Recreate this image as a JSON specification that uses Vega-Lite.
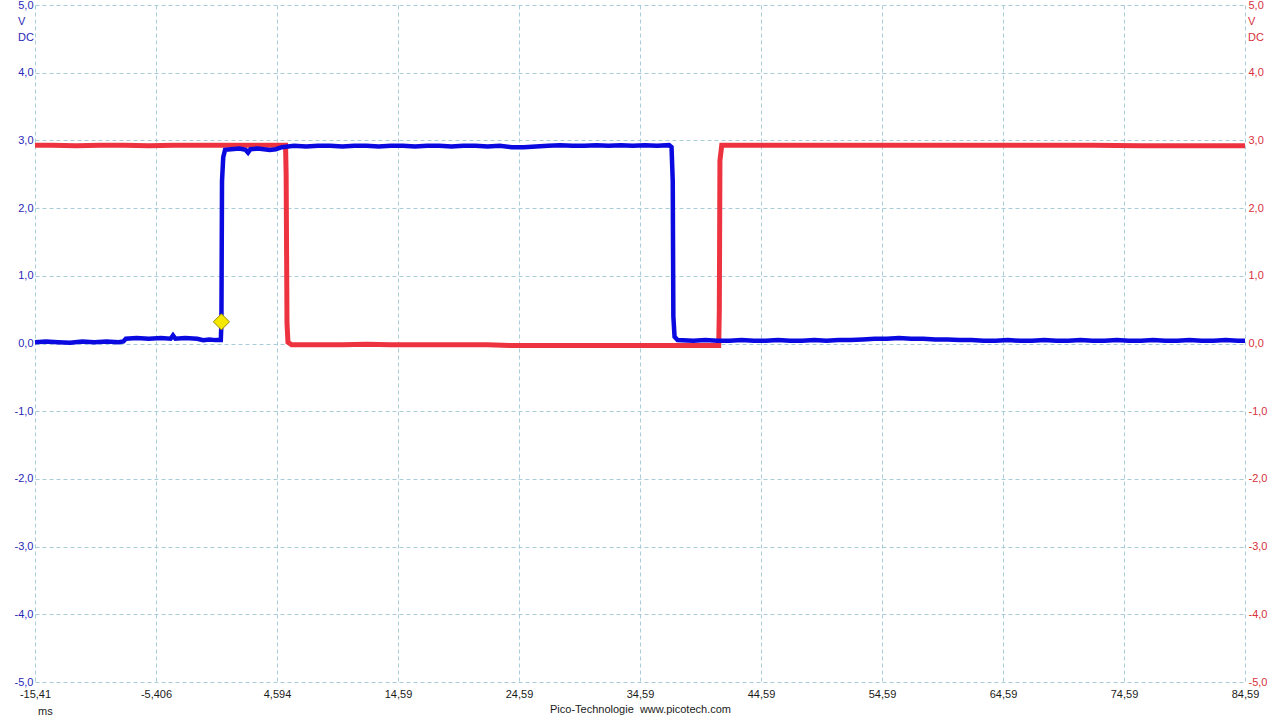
{
"$schema": "https://vega.github.io/schema/vega-lite/v6.json",
"width": 1210, "height": 677,
"autosize": {"type": "none"},
"padding": {"left": 35, "top": 5, "right": 35, "bottom": 38},
"background": "white",
"config": {"view": {"stroke": null}, "font": "Liberation Sans"},
"datasets": {
"blue": [
{"t":-15.406,"v":0.02},{"t":-14.5,"v":0.03},{"t":-13.5,"v":0.02},{"t":-12.5,"v":0.01},{"t":-11.5,"v":0.03},{"t":-10.5,"v":0.02},{"t":-9.5,"v":0.03},{"t":-8.5,"v":0.02},{"t":-8.1,"v":0.03},
{"t":-7.9,"v":0.07},{"t":-7.0,"v":0.08},{"t":-6.0,"v":0.07},{"t":-5.0,"v":0.08},{"t":-4.2,"v":0.07},{"t":-4.0,"v":0.12},{"t":-3.8,"v":0.07},{"t":-3.0,"v":0.08},{"t":-2.0,"v":0.07},{"t":-1.5,"v":0.05},{"t":-1.0,"v":0.06},{"t":-0.5,"v":0.05},{"t":-0.05,"v":0.05},
{"t":0.0,"v":0.3},{"t":0.05,"v":2.4},{"t":0.15,"v":2.75},{"t":0.3,"v":2.86},{"t":0.8,"v":2.87},{"t":1.5,"v":2.88},{"t":2.0,"v":2.86},{"t":2.2,"v":2.82},{"t":2.4,"v":2.87},{"t":3.0,"v":2.88},{"t":4.0,"v":2.86},{"t":4.5,"v":2.87},{"t":5.0,"v":2.9},
{"t":6.0,"v":2.92},{"t":7.0,"v":2.91},{"t":8.0,"v":2.92},{"t":9.0,"v":2.92},{"t":10.0,"v":2.91},{"t":11.0,"v":2.92},{"t":12.0,"v":2.92},{"t":13.0,"v":2.91},{"t":14.0,"v":2.92},{"t":15.0,"v":2.92},{"t":16.0,"v":2.91},{"t":17.0,"v":2.92},{"t":18.0,"v":2.92},{"t":19.0,"v":2.91},{"t":20.0,"v":2.92},{"t":21.0,"v":2.92},{"t":22.0,"v":2.91},{"t":23.0,"v":2.92},{"t":24.0,"v":2.9},{"t":25.0,"v":2.9},{"t":26.0,"v":2.91},{"t":27.0,"v":2.92},{"t":28.0,"v":2.93},{"t":29.0,"v":2.92},{"t":30.0,"v":2.92},{"t":31.0,"v":2.93},{"t":32.0,"v":2.92},{"t":33.0,"v":2.93},{"t":34.0,"v":2.92},{"t":35.0,"v":2.93},{"t":36.0,"v":2.92},{"t":37.0,"v":2.93},
{"t":37.2,"v":2.9},{"t":37.3,"v":2.4},{"t":37.35,"v":0.4},{"t":37.45,"v":0.1},{"t":37.7,"v":0.05},
{"t":39.0,"v":0.04},{"t":40.0,"v":0.05},{"t":41.0,"v":0.04},{"t":42.0,"v":0.04},{"t":43.0,"v":0.05},{"t":44.0,"v":0.04},{"t":45.0,"v":0.04},{"t":46.0,"v":0.05},{"t":47.0,"v":0.04},{"t":48.0,"v":0.04},{"t":49.0,"v":0.05},{"t":50.0,"v":0.04},{"t":51.0,"v":0.05},{"t":52.0,"v":0.05},{"t":53.0,"v":0.06},{"t":54.0,"v":0.07},{"t":55.0,"v":0.07},{"t":56.0,"v":0.08},{"t":57.0,"v":0.07},{"t":58.0,"v":0.07},{"t":59.0,"v":0.06},{"t":60.0,"v":0.06},{"t":61.0,"v":0.05},{"t":62.0,"v":0.05},{"t":63.0,"v":0.04},{"t":64.0,"v":0.04},{"t":65.0,"v":0.05},{"t":66.0,"v":0.04},{"t":67.0,"v":0.04},{"t":68.0,"v":0.05},{"t":69.0,"v":0.04},{"t":70.0,"v":0.04},{"t":71.0,"v":0.05},{"t":72.0,"v":0.04},{"t":73.0,"v":0.04},{"t":74.0,"v":0.05},{"t":75.0,"v":0.04},{"t":76.0,"v":0.04},{"t":77.0,"v":0.05},{"t":78.0,"v":0.04},{"t":79.0,"v":0.04},{"t":80.0,"v":0.05},{"t":81.0,"v":0.04},{"t":82.0,"v":0.04},{"t":83.0,"v":0.05},{"t":84.0,"v":0.04},{"t":84.594,"v":0.04}
],
"red": [
{"t":-15.406,"v":2.93},{"t":-14.0,"v":2.93},{"t":-12.0,"v":2.92},{"t":-10.0,"v":2.93},{"t":-8.0,"v":2.93},{"t":-6.0,"v":2.92},{"t":-4.0,"v":2.93},{"t":-2.0,"v":2.93},{"t":0.0,"v":2.93},{"t":2.0,"v":2.93},{"t":4.0,"v":2.93},{"t":5.3,"v":2.93},
{"t":5.35,"v":2.5},{"t":5.42,"v":0.3},{"t":5.5,"v":0.02},{"t":5.8,"v":-0.02},
{"t":8.0,"v":-0.02},{"t":10.0,"v":-0.02},{"t":12.0,"v":-0.01},{"t":14.0,"v":-0.02},{"t":16.0,"v":-0.02},{"t":18.0,"v":-0.02},{"t":20.0,"v":-0.02},{"t":22.0,"v":-0.02},{"t":24.0,"v":-0.03},{"t":26.0,"v":-0.03},{"t":28.0,"v":-0.03},{"t":30.0,"v":-0.03},{"t":32.0,"v":-0.03},{"t":34.0,"v":-0.03},{"t":36.0,"v":-0.03},{"t":38.0,"v":-0.03},{"t":40.0,"v":-0.03},{"t":41.1,"v":-0.03},
{"t":41.15,"v":0.5},{"t":41.2,"v":2.7},{"t":41.35,"v":2.93},
{"t":44.0,"v":2.93},{"t":48.0,"v":2.93},{"t":52.0,"v":2.93},{"t":56.0,"v":2.93},{"t":60.0,"v":2.93},{"t":64.0,"v":2.93},{"t":68.0,"v":2.93},{"t":72.0,"v":2.93},{"t":76.0,"v":2.92},{"t":80.0,"v":2.92},{"t":84.594,"v":2.92}
],
"trig": [{"t":0.0,"v":0.32}],
"unitL": [{"t":-15.406,"v":5,"s":"V\nDC"}],
"unitR": [{"t":84.594,"v":5,"s":"V\nDC"}],
"xunit": [{"t":-15.406,"v":-5,"s":"ms"}]
},
"layer": [
{
"data": {"name": "red"},
"mark": {"type": "line", "color": "#ee3340", "strokeWidth": 5},
"encoding": {
"x": {"field": "t", "type": "quantitative", "scale": {"domain": [-15.406, 84.594], "nice": false, "zero": false},
"axis": {"values": [-15.406,-5.406,4.594,14.594,24.594,34.594,44.594,54.594,64.594,74.594,84.594],
"labelExpr": "replace(replace(format(datum.value,'.4'),'.',','),'\u2212','-')",
"labelFlush": false, "labelOverlap": false, "ticks": false, "domain": false,
"grid": true, "gridDash": [4,3], "gridColor": "#a9cdd8", "gridWidth": 1,
"labelColor": "#1a1a1a", "labelFont": "Liberation Sans", "labelFontSize": 11, "labelPadding": 6,
"title": "Pico-Technologie\u00a0 www.picotech.com", "titleFont": "Liberation Sans", "titleFontSize": 11, "titleFontWeight": "normal", "titleColor": "#1a1a1a", "titlePadding": 4}},
"y": {"field": "v", "type": "quantitative", "scale": {"domain": [-5, 5], "nice": false, "zero": false},
"axis": {"orient": "right", "values": [-5,-4,-3,-2,-1,0,1,2,3,4,5],
"labelExpr": "replace(replace(format(datum.value,'.1f'),'.',','),'\u2212','-')",
"ticks": false, "domain": false, "grid": false, "labelColor": "#d8303c", "labelFont": "Liberation Sans", "labelFontSize": 11, "labelPadding": 3, "title": null}}
}
},
{
"data": {"name": "blue"},
"mark": {"type": "line", "color": "#0a0ae0", "strokeWidth": 4.5},
"encoding": {
"x": {"field": "t", "type": "quantitative", "scale": {"domain": [-15.406, 84.594], "nice": false, "zero": false}},
"y": {"field": "v", "type": "quantitative", "scale": {"domain": [-5, 5], "nice": false, "zero": false},
"axis": {"orient": "left", "values": [-5,-4,-3,-2,-1,0,1,2,3,4,5],
"labelExpr": "replace(replace(format(datum.value,'.1f'),'.',','),'\u2212','-')",
"ticks": false, "domain": false, "grid": true, "gridDash": [4,3], "gridColor": "#a9cdd8", "gridWidth": 1,
"labelColor": "#2828b8", "labelFont": "Liberation Sans", "labelFontSize": 11, "labelPadding": 2, "title": null}}
}
},
{
"data": {"name": "trig"},
"mark": {"type": "point", "shape": "diamond", "filled": true, "fill": "#f5e800", "stroke": "#9a8a00", "strokeWidth": 1, "size": 260, "opacity": 1},
"encoding": {
"x": {"field": "t", "type": "quantitative", "scale": {"domain": [-15.406, 84.594], "nice": false, "zero": false}},
"y": {"field": "v", "type": "quantitative", "scale": {"domain": [-5, 5], "nice": false, "zero": false}, "axis": null}
}
},
{
"data": {"name": "unitL"},
"mark": {"type": "text", "align": "left", "baseline": "top", "dx": -17, "dy": 11, "lineBreak": "\n", "lineHeight": 16, "font": "Liberation Sans", "fontSize": 11, "color": "#2828b8"},
"encoding": {
"x": {"field": "t", "type": "quantitative", "scale": {"domain": [-15.406, 84.594], "nice": false, "zero": false}},
"y": {"field": "v", "type": "quantitative", "scale": {"domain": [-5, 5], "nice": false, "zero": false}, "axis": null},
"text": {"field": "s"}
}
},
{
"data": {"name": "unitR"},
"mark": {"type": "text", "align": "left", "baseline": "top", "dx": 3, "dy": 11, "lineBreak": "\n", "lineHeight": 16, "font": "Liberation Sans", "fontSize": 11, "color": "#d8303c"},
"encoding": {
"x": {"field": "t", "type": "quantitative", "scale": {"domain": [-15.406, 84.594], "nice": false, "zero": false}},
"y": {"field": "v", "type": "quantitative", "scale": {"domain": [-5, 5], "nice": false, "zero": false}, "axis": null},
"text": {"field": "s"}
}
},
{
"data": {"name": "xunit"},
"mark": {"type": "text", "align": "left", "baseline": "middle", "dx": 3, "dy": 30, "font": "Liberation Sans", "fontSize": 11, "color": "#1a1a1a"},
"encoding": {
"x": {"field": "t", "type": "quantitative", "scale": {"domain": [-15.406, 84.594], "nice": false, "zero": false}},
"y": {"field": "v", "type": "quantitative", "scale": {"domain": [-5, 5], "nice": false, "zero": false}, "axis": null},
"text": {"field": "s"}
}
}
],
"resolve": {"scale": {"y": "independent"}}
}
